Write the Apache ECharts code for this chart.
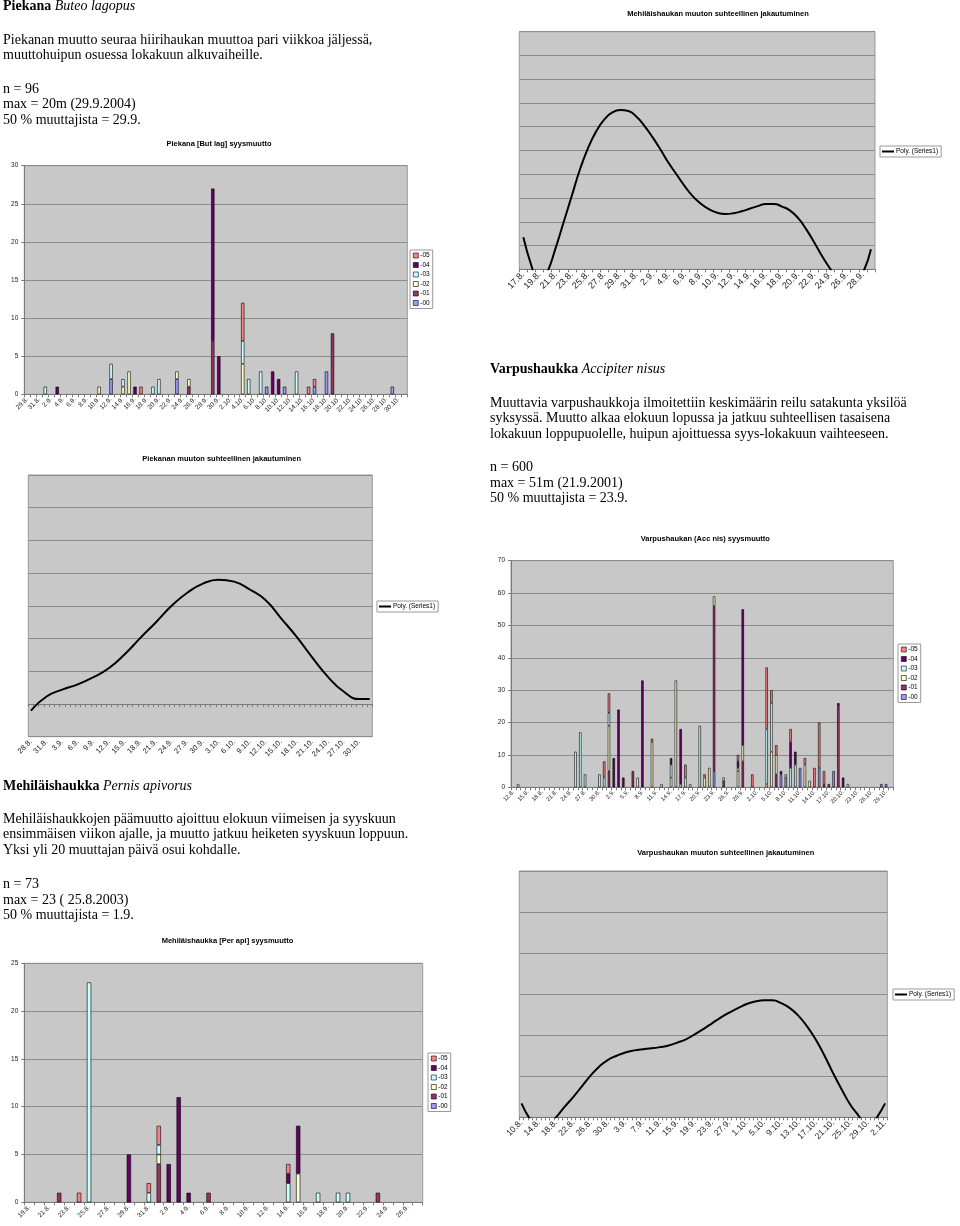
<!DOCTYPE html>
<html><head><meta charset="utf-8">
<script src="https://cdn.jsdelivr.net/npm/echarts@6/dist/echarts.min.js"></script>
<style>
body{margin:0;background:#fff;}
#c{position:absolute;left:0;top:0;width:960px;height:1226px;}
.t{position:absolute;font-family:"Liberation Serif","Times New Roman",serif;font-size:14px;line-height:15.7px;color:#000;white-space:nowrap;}
.ct{position:absolute;transform:translate(-50%,-50%);font-family:"Liberation Sans",Arial,sans-serif;font-weight:bold;font-size:7.5px;color:#000;white-space:nowrap;}
</style></head><body>
<div id="c"></div>

<div class="t" style="left:3px;top:-2px"><b>Piekana</b> <i>Buteo lagopus</i></div>
<div class="t" style="left:3px;top:31.5px">Piekanan muutto seuraa hiirihaukan muuttoa pari viikkoa jäljessä,<br>muuttohuipun osuessa lokakuun alkuvaiheille.</div>
<div class="t" style="left:3px;top:80.5px">n = 96<br>max = 20m (29.9.2004)<br>50 % muuttajista = 29.9.</div>

<div class="t" style="left:490px;top:361px"><b>Varpushaukka</b> <i>Accipiter nisus</i></div>
<div class="t" style="left:490px;top:394.5px">Muuttavia varpushaukkoja ilmoitettiin keskimäärin reilu satakunta yksilöä<br>syksyssä. Muutto alkaa elokuun lopussa ja jatkuu suhteellisen tasaisena<br>lokakuun loppupuolelle, huipun ajoittuessa syys-lokakuun vaihteeseen.</div>
<div class="t" style="left:490px;top:459px">n = 600<br>max = 51m (21.9.2001)<br>50 % muuttajista = 23.9.</div>

<div class="t" style="left:3px;top:778px"><b>Mehiläishaukka</b> <i>Pernis apivorus</i></div>
<div class="t" style="left:3px;top:810.5px">Mehiläishaukkojen päämuutto ajoittuu elokuun viimeisen ja syyskuun<br>ensimmäisen viikon ajalle, ja muutto jatkuu heiketen syyskuun loppuun.<br>Yksi yli 20 muuttajan päivä osui kohdalle.</div>
<div class="t" style="left:3px;top:876px">n = 73<br>max = 23 ( 25.8.2003)<br>50 % muuttajista = 1.9.</div>

<div class="ct" style="left:219px;top:143.3px">Piekana [But lag] syysmuutto</div>
<div class="ct" style="left:718px;top:13.3px">Mehiläishaukan muuton suhteellinen jakautuminen</div>
<div class="ct" style="left:221.7px;top:457.7px">Piekanan muuton suhteellinen jakautuminen</div>
<div class="ct" style="left:705.3px;top:538.3px">Varpushaukan (Acc nis) syysmuutto</div>
<div class="ct" style="left:725.7px;top:852.3px">Varpushaukan muuton suhteellinen jakautuminen</div>
<div class="ct" style="left:227.5px;top:940px">Mehiläishaukka [Per api] syysmuutto</div>

<script>
// ---- day labels ----
const aug = ['10.8.','11.8.','12.8.','13.8.','14.8.','15.8.','16.8.','17.8.','18.8.','19.8.','20.8.','21.8.','22.8.','23.8.','24.8.','25.8.','26.8.','27.8.','28.8.','29.8.','30.8.','31.8.'];
const sep = ['1.9.','2.9.','3.9.','4.9.','5.9.','6.9.','7.9.','8.9.','9.9.','10.9.','11.9.','12.9.','13.9.','14.9.','15.9.','16.9.','17.9.','18.9.','19.9.','20.9.','21.9.','22.9.','23.9.','24.9.','25.9.','26.9.','27.9.','28.9.','29.9.','30.9.'];
const oct = ['1.10.','2.10.','3.10.','4.10.','5.10.','6.10.','7.10.','8.10.','9.10.','10.10.','11.10.','12.10.','13.10.','14.10.','15.10.','16.10.','17.10.','18.10.','19.10.','20.10.','21.10.','22.10.','23.10.','24.10.','25.10.','26.10.','27.10.','28.10.','29.10.','30.10.','31.10.'];
const nov = ['1.11.','2.11.'];
const augFrom = d => aug.slice(aug.indexOf(d));

const pieBarCats = augFrom('29.8.').concat(sep, oct);
const piePolyCats = augFrom('28.8.').concat(sep, oct, nov.slice(0,1));
const mehPolyCats = augFrom('17.8.').concat(sep.slice(0,29));
const varBarCats = augFrom('12.8.').concat(sep, oct.slice(0,30));
const varPolyCats = aug.concat(sep, oct, nov);
const mehBarCats = augFrom('19.8.').concat(sep.slice(0,27));

// ---- series codes ----
const codes = ['-00','-01','-02','-03','-04','-05'];
const legendOrder = ['-05','-04','-03','-02','-01','-00'];

// ---- Piekana daily counts per year code ----
const pie00 = [['12.9.',2],['23.9.',2],['8.10.',1],['11.10.',1],['16.10.',1],['18.10.',3],['29.10.',1]];
const pie01 = [['25.9.',1],['29.9.',7],['19.10.',8]];
const pie02 = [['10.9.',1],['14.9.',1],['15.9.',3],['23.9.',1],['25.9.',1],['4.10.',4]];
const pie03 = [['1.9.',1],['12.9.',2],['14.9.',1],['19.9.',1],['20.9.',2],['4.10.',3],['5.10.',2],['7.10.',3],['13.10.',3]];
const pie04 = [['3.9.',1],['16.9.',1],['29.9.',20],['30.9.',5],['9.10.',3],['10.10.',2]];
const pie05 = [['17.9.',1],['4.10.',5],['15.10.',1],['16.10.',1]];

// ---- Varpushaukka ----
const var00 = [['23.9.',5],['7.10.',4],['8.10.',3],['11.10.',6],['15.10.',6],['18.10.',5],['28.10.',1],['29.10.',1]];
const var01 = [['1.9.',5],['6.9.',5],['23.9.',51],['25.9.',2],['29.9.',8],['6.10.',4],['16.10.',1],['17.10.',1],['19.10.',25]];
const var02 = [['13.8.',1],['1.9.',14],['7.9.',3],['10.9.',14],['12.9.',1],['14.9.',3],['15.9.',33],['18.9.',1],['21.9.',3],['22.9.',6],['23.9.',3],['25.9.',1],['28.9.',5],['29.9.',5],['4.10.',1],['5.10.',11],['6.10.',6],['12.10.',7],['13.10.',2],['21.10.',1]];
const var03 = [['25.8.',11],['26.8.',17],['27.8.',4],['30.8.',4],['31.8.',3],['1.9.',4],['14.9.',4],['16.9.',1],['17.9.',3],['20.9.',19],['28.9.',1],['4.10.',17],['5.10.',15],['8.10.',1],['9.10.',6],['10.10.',7]];
const var04 = [['2.9.',9],['3.9.',24],['4.9.',3],['8.9.',33],['14.9.',2],['16.9.',17],['28.9.',2],['29.9.',42],['7.10.',1],['9.10.',8],['10.10.',4],['19.10.',1],['20.10.',3]];
const var05 = [['31.8.',5],['1.9.',6],['10.9.',1],['17.9.',4],['21.9.',1],['28.9.',2],['1.10.',4],['4.10.',19],['5.10.',4],['6.10.',3],['9.10.',4],['12.10.',2],['14.10.',6],['15.10.',14],['16.10.',4]];

// ---- Mehiläishaukka ----
const meh00 = [];
const meh01 = [['22.8.',1],['1.9.',4],['6.9.',1],['23.9.',1]];
const meh02 = [['1.9.',1],['15.9.',3]];
const meh03 = [['25.8.',23],['31.8.',1],['1.9.',1],['14.9.',2],['17.9.',1],['19.9.',1],['20.9.',1]];
const meh04 = [['29.8.',5],['2.9.',4],['3.9.',11],['4.9.',1],['14.9.',1],['15.9.',5]];
const meh05 = [['24.8.',1],['31.8.',1],['1.9.',2],['14.9.',1]];

// ---- polynomial trend curves (gridline units) ----
const piePoly = [['28.8.',-0.2],['31.8.',0.23],['3.9.',0.44],['6.9.',0.6],['9.9.',0.82],['12.9.',1.1],['15.9.',1.52],['18.9.',2.02],['21.9.',2.5],['24.9.',3.0],['27.9.',3.4],['30.9.',3.68],['3.10.',3.8],['6.10.',3.74],['9.10.',3.5],['12.10.',3.18],['15.10.',2.62],['18.10.',2.05],['21.10.',1.42],['24.10.',0.83],['27.10.',0.38],['30.10.',0.15],['1.11.',0.15]];
const mehPoly = [['17.8.',1.35],['18.8.',0.15],['19.8.',-0.7],['20.8.',-0.1],['21.8.',0.9],['22.8.',2.0],['23.8.',3.1],['24.8.',4.2],['25.8.',5.1],['26.8.',5.8],['27.8.',6.3],['28.8.',6.6],['29.8.',6.7],['30.8.',6.66],['31.8.',6.42],['1.9.',6.03],['2.9.',5.55],['3.9.',5.02],['4.9.',4.46],['5.9.',3.97],['6.9.',3.48],['7.9.',3.06],['8.9.',2.75],['9.9.',2.52],['10.9.',2.38],['11.9.',2.33],['12.9.',2.36],['13.9.',2.44],['14.9.',2.55],['15.9.',2.66],['16.9.',2.75],['17.9.',2.75],['18.9.',2.64],['19.9.',2.47],['20.9.',2.15],['21.9.',1.68],['22.9.',1.12],['23.9.',0.53],['24.9.',0.0],['25.9.',-0.5],['26.9.',-0.8],['27.9.',-0.6],['28.9.',-0.15],['29.9.',0.84]];
const varPoly = [['10.8.',0.34],['12.8.',-0.05],['14.8.',-0.3],['16.8.',-0.25],['18.8.',0.0],['20.8.',0.26],['22.8.',0.5],['24.8.',0.76],['26.8.',1.02],['28.8.',1.24],['30.8.',1.4],['1.9.',1.5],['3.9.',1.58],['5.9.',1.63],['7.9.',1.66],['9.9.',1.68],['11.9.',1.71],['13.9.',1.75],['15.9.',1.82],['17.9.',1.9],['19.9.',2.02],['21.9.',2.15],['23.9.',2.29],['25.9.',2.43],['27.9.',2.55],['29.9.',2.66],['1.10.',2.76],['3.10.',2.82],['5.10.',2.85],['7.10.',2.85],['9.10.',2.78],['11.10.',2.66],['13.10.',2.47],['15.10.',2.21],['17.10.',1.89],['19.10.',1.5],['21.10.',1.07],['23.10.',0.67],['25.10.',0.3],['27.10.',0.02],['29.10.',-0.3],['31.10.',-0.02],['2.11.',0.34]];

// ---- styles ----
const COLORS = {'-00':'#9999ff','-01':'#993366','-02':'#ffffcc','-03':'#ccffff','-04':'#660066','-05':'#ff8080'};
const SANS = '"Liberation Sans", Arial, sans-serif';
const PLOT_BG = '#c8c8c8', GRID_LINE = '#8c8c8c', AXIS = '#7a7a7a', LBL = '#222';

function fill(cats, pairs){
  const a = cats.map(() => null);
  pairs.forEach(([d, v]) => { const i = cats.indexOf(d); if (i >= 0) a[i] = v; });
  return a;
}

const grids = [
  {left:24.3, top:165.7, width:383, height:228.6},   // 0 Piekana bars
  {left:511, top:560.7, width:382.3, height:226.6},  // 1 Varpus bars
  {left:24.3, top:963.3, width:398.4, height:239},   // 2 Mehi bars
  {left:28.3, top:475, width:344, height:261.7},     // 3 Piekana poly
  {left:519.3, top:31.7, width:355.7, height:237.6}, // 4 Mehi poly
  {left:519.3, top:871, width:368, height:246.3}     // 5 Varpus poly
].map(g => Object.assign({show:true, backgroundColor:PLOT_BG, borderColor:'#999', borderWidth:1, containLabel:false, outerBoundsMode:'none'}, g));

function catAxis(gi, cats, interval, fs){
  return {gridIndex:gi, type:'category', data:cats, boundaryGap:true,
    axisLine:{show:true, onZero:true, lineStyle:{color:AXIS, width:1}},
    axisTick:{show:true, interval:0, length:3, lineStyle:{color:AXIS}},
    axisLabel:{interval:interval, rotate:45, fontSize:fs, color:LBL, margin:4, fontFamily:SANS, hideOverlap:false},
    splitLine:{show:false}};
}
function valAxis(gi, min, max, step, showLabels){
  return {gridIndex:gi, type:'value', min:min, max:max, interval:step,
    axisLine:{show:showLabels, lineStyle:{color:AXIS}},
    axisTick:{show:showLabels, length:3, lineStyle:{color:AXIS}},
    axisLabel:{show:showLabels, fontSize:6.5, color:LBL, margin:6, fontFamily:SANS},
    splitLine:{show:true, lineStyle:{color:GRID_LINE, width:1}}};
}

const xAxis = [
  catAxis(0, pieBarCats, 1, 6.5),
  catAxis(1, varBarCats, 2, 5.8),
  catAxis(2, mehBarCats, 1, 6.5),
  catAxis(3, piePolyCats, 2, 7.5),
  catAxis(4, mehPolyCats, 1, 9),
  catAxis(5, varPolyCats, 3, 8.5)
];
const yAxis = [
  valAxis(0, 0, 30, 5, true),
  valAxis(1, 0, 70, 10, true),
  valAxis(2, 0, 25, 5, true),
  valAxis(3, -1, 7, 1, false),
  valAxis(4, 0, 10, 1, false),
  valAxis(5, 0, 6, 1, false)
];

const series = [];
const barSets = [
  {gi:0, cats:pieBarCats, sets:[pie00,pie01,pie02,pie03,pie04,pie05], w:'55%'},
  {gi:1, cats:varBarCats, sets:[var00,var01,var02,var03,var04,var05], w:'50%'},
  {gi:2, cats:mehBarCats, sets:[meh00,meh01,meh02,meh03,meh04,meh05], w:'43%'}
];
barSets.forEach(b => {
  codes.forEach((code, k) => {
    series.push({type:'bar', name:code, xAxisIndex:b.gi, yAxisIndex:b.gi, stack:'s'+b.gi,
      barWidth:b.w, data:fill(b.cats, b.sets[k]),
      itemStyle:{color:COLORS[code], borderColor:'#000', borderWidth:0.6}});
  });
});
[[3, piePoly], [4, mehPoly], [5, varPoly]].forEach(([gi, d]) => {
  series.push({type:'line', name:'Poly. (Series1)', xAxisIndex:gi, yAxisIndex:gi, data:d,
    smooth:0.5, symbol:'none', clip:true, lineStyle:{color:'#000', width:2}, itemStyle:{color:'#000'}});
});

function barLegend(left, top){
  return {orient:'vertical', left:left, top:top, data:legendOrder, icon:'rect', itemWidth:5, itemHeight:5, itemGap:2.5,
    padding:[2,3,2,3], backgroundColor:'#fff', borderColor:'#999', borderWidth:1, selectedMode:false,
    textStyle:{fontSize:6.5, color:'#000', fontFamily:SANS, padding:[0,0,0,-3]},
    itemStyle:{borderColor:'#000', borderWidth:0.6}};
}
function polyLegend(left, top){
  return {orient:'vertical', left:left, top:top, data:[{name:'Poly. (Series1)', icon:'rect'}], itemWidth:12, itemHeight:2, itemGap:0,
    padding:[2,3,2,2], backgroundColor:'#fff', borderColor:'#999', borderWidth:1, selectedMode:false,
    textStyle:{fontSize:6.5, color:'#000', fontFamily:SANS, padding:[0,0,0,-3]},
    itemStyle:{color:'#000', borderWidth:0}};
}

const chart = echarts.init(document.getElementById('c'), null, {renderer:'canvas'});
chart.setOption({
  animation:false,
  backgroundColor:'#fff',
  grid:grids, xAxis:xAxis, yAxis:yAxis, series:series,
  legend:[barLegend(410, 250), barLegend(898, 644), barLegend(428, 1053),
          polyLegend(377, 601), polyLegend(880, 146), polyLegend(893, 989)]
});
</script>
</body></html>
